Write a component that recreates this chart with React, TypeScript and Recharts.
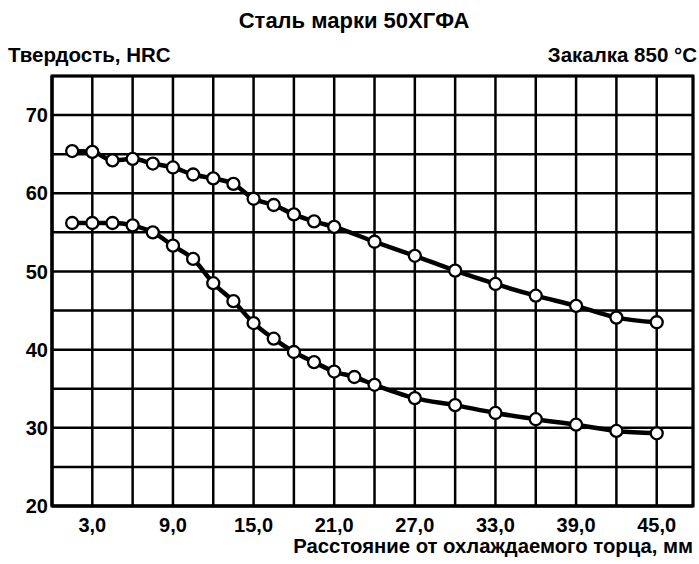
import { LineChart, Line, XAxis, YAxis, CartesianGrid, ReferenceArea } from "recharts";

const FONT = '"Liberation Sans", Arial, sans-serif';

// distance from quenched end, mm
const upperX = [1.5, 3, 4.5, 6, 7.5, 9, 10.5, 12, 13.5, 15, 16.5, 18, 19.5, 21, 24, 27, 30, 33, 36, 39, 42, 45];
// HRC, upper band edge
const upperY = [65.4, 65.3, 64.2, 64.4, 63.8, 63.3, 62.4, 61.9, 61.2, 59.3, 58.5, 57.3, 56.4, 55.7, 53.8, 52.0, 50.1, 48.4, 46.9, 45.6, 44.1, 43.5];

const lowerX = [1.5, 3, 4.5, 6, 7.5, 9, 10.5, 12, 13.5, 15, 16.5, 18, 19.5, 21, 22.5, 24, 27, 30, 33, 36, 39, 42, 45];
const lowerY = [56.2, 56.2, 56.2, 55.9, 55.0, 53.3, 51.6, 48.5, 46.2, 43.4, 41.4, 39.7, 38.4, 37.2, 36.5, 35.5, 33.8, 32.9, 31.9, 31.1, 30.4, 29.6, 29.3];

const xTicks = [3, 6, 9, 12, 15, 18, 21, 24, 27, 30, 33, 36, 39, 42, 45];
const yTicks = [20, 25, 30, 35, 40, 45, 50, 55, 60, 65, 70, 75];
const X_MAX = 47.7;

const upperData = upperX.map((x, i) => ({ x, hrc: upperY[i] }));
const lowerData = lowerX.map((x, i) => ({ x, hrc: lowerY[i] }));

const tickStyle = { fontSize: 20, fontWeight: "bold", fill: "#000", fontFamily: FONT };
const dotStyle = { r: 6, fill: "#fff", stroke: "#000", strokeWidth: 2.3 };

export default function App() {
  return (
    <div style={{ position: "absolute", left: 0, top: 0, width: 699, height: 564, background: "#fff" }}>
      <LineChart width={699} height={564} margin={{ top: 76, right: 6, left: 8, bottom: 28 }}>
        <CartesianGrid stroke="#000" strokeWidth={2.5} strokeOpacity={1} />
        <XAxis
          type="number"
          dataKey="x"
          domain={[0, X_MAX]}
          ticks={xTicks}
          allowDataOverflow
          tickFormatter={(v: number) => (v % 6 === 3 ? v.toFixed(1).replace(".", ",") : "")}
          tickLine={false}
          tickSize={0}
          tickMargin={12}
          height={30}
          axisLine={{ stroke: "#000", strokeWidth: 3 }}
          tick={tickStyle}
        />
        <YAxis
          type="number"
          domain={[20, 75]}
          ticks={yTicks}
          allowDataOverflow
          tickFormatter={(v: number) => (v % 10 === 0 ? String(v) : "")}
          tickLine={false}
          tickSize={0}
          tickMargin={4}
          width={44}
          axisLine={{ stroke: "#000", strokeWidth: 3 }}
          tick={tickStyle}
        />
        <ReferenceArea x1={0} x2={X_MAX} y1={20} y2={75} fill="none" stroke="#000" strokeWidth={3} ifOverflow="visible" />
        <Line
          data={upperData}
          dataKey="hrc"
          type="monotone"
          stroke="#000"
          strokeWidth={4.5}
          dot={dotStyle}
          activeDot={false}
          isAnimationActive={false}
        />
        <Line
          data={lowerData}
          dataKey="hrc"
          type="monotone"
          stroke="#000"
          strokeWidth={4.5}
          dot={dotStyle}
          activeDot={false}
          isAnimationActive={false}
        />
      </LineChart>
      <svg width={699} height={564} style={{ position: "absolute", left: 0, top: 0, pointerEvents: "none" }}>
        <g fontFamily={FONT} fontWeight="bold" fill="#000" fontSize={20}>
          <text x={354} y={28} textAnchor="middle" fontSize={22}>Сталь марки 50ХГФА</text>
          <text x={8} y={62} fontSize={20.5}>Твердость, HRC</text>
          <text x={697} y={62} textAnchor="end" fontSize={20.5}>Закалка 850 °C</text>
          <text x={693} y={553} textAnchor="end" fontSize={20.3}>Расстояние от охлаждаемого торца, мм</text>
        </g>
      </svg>
    </div>
  );
}
